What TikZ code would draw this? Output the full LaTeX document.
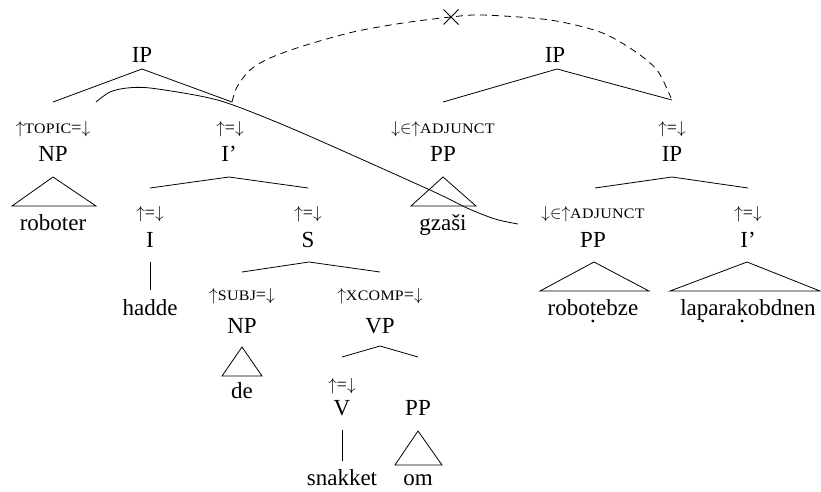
\documentclass[tikz,border=0pt]{standalone}
\usepackage{fontspec}
\setmainfont{Liberation Serif}
\newfontfamily\scfont[LetterSpace=2,FakeStretch=1.1]{Liberation Serif}
\usetikzlibrary{shapes.misc}
\newcommand\lsc[1]{{\fontsize{14.5}{14.5}\scfont #1}}
\newcommand\upa{$\uparrow$}
\newcommand\dna{$\downarrow$}
\newcommand\udot[1]{\ooalign{#1\cr\hidewidth\raisebox{-0.33em}{.}\hidewidth\cr}}
\begin{document}
\begin{tikzpicture}[x=1pt,y=-1pt,
  lbl/.style={anchor=base,inner sep=0pt,font=\fontsize{23}{23}\selectfont},
  ann/.style={anchor=base,inner sep=0pt,font=\fontsize{18}{18}\selectfont},
  br/.style={line width=0.8pt,line join=miter},
  tri/.style={line width=0.8pt,line join=miter},
  movecurve/.style={line width=0.8pt},
  dashcurve/.style={line width=0.8pt,dash pattern=on 7pt off 5pt},
  xmark/.style={cross out,draw,line width=1pt,minimum size=14pt,inner sep=0pt}]
\useasboundingbox (0,0) rectangle (821,491);
% ---------- left tree ----------
\node[lbl] (IPa) at (142,62) {IP};
\node[ann] (topicann) at (53,133) {\upa\lsc{TOPIC}=\dna};
\node[lbl] (NPa) at (53,161) {NP};
\node[lbl] (roboter) at (53,230) {roboter};
\node[ann] (Ibarann) at (230,133) {\upa=\dna};
\node[lbl] (Ibara) at (229,161) {I’};
\node[ann] (Iann) at (150,218) {\upa=\dna};
\node[lbl] (I) at (150,247) {I};
\node[lbl] (hadde) at (150,315) {hadde};
\node[ann] (Sann) at (308,218) {\upa=\dna};
\node[lbl] (S) at (308,247) {S};
\node[ann] (subjann) at (242,300) {\upa\lsc{SUBJ}=\dna};
\node[lbl] (NPb) at (242,333) {NP};
\node[lbl] (de) at (242,398) {de};
\node[ann] (xcompann) at (380,300) {\upa\lsc{XCOMP}=\dna};
\node[lbl] (VP) at (380,333) {VP};
\node[ann] (Vann) at (342,390) {\upa=\dna};
\node[lbl] (V) at (342,415) {V};
\node[lbl] (PPc) at (418,415) {PP};
\node[lbl] (snakket) at (342,485) {snakket};
\node[lbl] (om) at (418,485) {om};
% ---------- right tree ----------
\node[lbl] (IPb) at (555,62) {IP};
\node[ann] (adjann1) at (443,133) {\dna$\in$\upa\lsc{ADJUNCT}};
\node[lbl] (PPa) at (443,161) {PP};
\node[lbl] (gzasi) at (443,230) {gzaši};
\node[ann] (IPcann) at (672,133) {\upa=\dna};
\node[lbl] (IPc) at (672,161) {IP};
\node[ann] (adjann2) at (593,218) {\dna$\in$\upa\lsc{ADJUNCT}};
\node[lbl] (PPb) at (593,247) {PP};
\node[lbl] (robotebze) at (593,315) {robo\udot{t}ebze};
\node[ann] (Ibarbann) at (748,218) {\upa=\dna};
\node[lbl] (Ibarb) at (748,247) {I’};
\node[lbl] (lapar) at (748,315) {la\udot{p}ara\udot{k}obdnen};
% ---------- branch coordinates ----------
\coordinate (IPa-t) at (142,69); \coordinate (IPa-l) at (53,102); \coordinate (IPa-r) at (232,102);
\coordinate (Ia-t) at (229,177); \coordinate (Ia-l) at (150,188); \coordinate (Ia-r) at (308,188);
\coordinate (S-t) at (309,262); \coordinate (S-l) at (242,272); \coordinate (S-r) at (380,272);
\coordinate (VP-t) at (380,346); \coordinate (VP-l) at (342,357); \coordinate (VP-r) at (418,357);
\coordinate (IPb-t) at (557,69); \coordinate (IPb-l) at (443,102); \coordinate (IPb-r) at (672,100);
\coordinate (IPc-t) at (672,177); \coordinate (IPc-l) at (595,188); \coordinate (IPc-r) at (748,188);
\coordinate (I-t) at (150,262); \coordinate (I-b) at (150,290);
\coordinate (V-t) at (342,430); \coordinate (V-b) at (342,461);
\draw[br] (IPa-l) -- (IPa-t) -- (IPa-r);
\draw[br] (Ia-l) -- (Ia-t) -- (Ia-r);
\draw[br] (S-l) -- (S-t) -- (S-r);
\draw[br] (VP-l) -- (VP-t) -- (VP-r);
\draw[br] (IPb-l) -- (IPb-t) -- (IPb-r);
\draw[br] (IPc-l) -- (IPc-t) -- (IPc-r);
\draw[br] (I-t) -- (I-b);
\draw[br] (V-t) -- (V-b);
% ---------- triangles ----------
\draw[tri] (53,177) -- (96,206) -- (12,206) -- cycle;
\draw[tri] (443,177) -- (476,206) -- (411,206) -- cycle;
\draw[tri] (594,262) -- (649,291) -- (540,291) -- cycle;
\draw[tri] (747,262) -- (820,291) -- (670,291) -- cycle;
\draw[tri] (242,347) -- (262,376) -- (222,376) -- cycle;
\draw[tri] (418,431) -- (442,465) -- (395,465) -- cycle;
% ---------- curves ----------
\draw[movecurve] plot[smooth] coordinates {(96,102) (110,92) (127,88) (150,88) (200,96) (233,105) (300,132) (430,190) (467,208) (495,219) (518,224)};
\draw[dashcurve] plot[smooth] coordinates {(232,102) (237,87) (250,70) (270,58) (303,46) (353,32) (403,23) (451,17) (483,15) (550,20) (600,32) (633,50) (657,70) (671,98)};
\node[xmark] (cross) at (451,17) {};
\end{tikzpicture}
\end{document}
